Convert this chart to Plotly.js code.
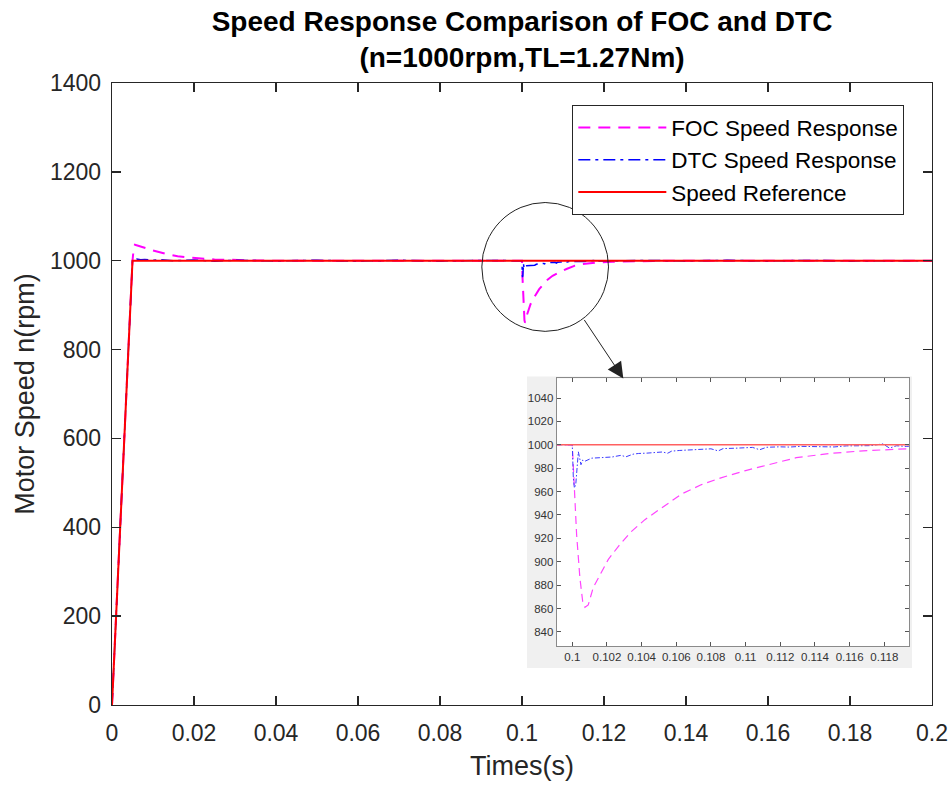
<!DOCTYPE html>
<html>
<head>
<meta charset="utf-8">
<script src="https://cdn.plot.ly/plotly-3.0.1.min.js"></script>
<style>html,body{margin:0;padding:0;background:#fff;}</style>
</head>
<body>
<div id="chart" style="width:951px;height:787px;"></div>
<script>
// ---- Data ----
const refT = [0, 0.005, 0.2];
const refN = [0, 1000, 1000];

const focT = [0, 0.001, 0.002, 0.003, 0.004, 0.005, 0.0053, 0.0056, 0.006, 0.007, 0.008, 0.009, 0.010,
  0.0115, 0.013, 0.0145, 0.016, 0.018, 0.020, 0.0225, 0.025, 0.028, 0.032, 0.036, 0.04, 0.06, 0.08,
  0.1, 0.10012, 0.10025, 0.10044, 0.1006, 0.10073, 0.10092, 0.10121, 0.1016, 0.10208, 0.10265,
  0.10342, 0.10419, 0.10515, 0.10631, 0.10746, 0.10862, 0.11, 0.111, 0.11292, 0.11485, 0.11677,
  0.11927, 0.122, 0.125, 0.128, 0.132, 0.137, 0.145, 0.16, 0.18, 0.2];
const focN = [0, 192, 396, 598, 801, 1000, 1028, 1036, 1035, 1032, 1029, 1026, 1023,
  1019, 1016, 1013, 1010, 1008, 1006, 1004.5, 1003, 1001.8, 1000.8, 1000.3, 1000, 1000, 1000,
  1000, 963, 923, 886, 866, 861, 863, 878, 889, 902, 913,
  926, 936, 946, 958, 966, 972, 978, 982, 989, 992.6, 994.9,
  996.6, 997.6, 998.4, 999, 999.5, 999.8, 1000, 1000, 1000, 1000];

const dtcT = [0, 0.001, 0.002, 0.003, 0.004, 0.005, 0.0052, 0.0056, 0.006, 0.007, 0.008, 0.01, 0.012,
  0.015, 0.02, 0.025, 0.03, 0.04, 0.05, 0.06, 0.07, 0.08, 0.09, 0.0998,
  0.1, 0.10006, 0.10012, 0.1002, 0.10027, 0.10035, 0.10042, 0.1005, 0.1006, 0.10073, 0.10112,
  0.1015, 0.10188, 0.1023, 0.1028, 0.1031, 0.1035, 0.10381, 0.1043, 0.10477, 0.1052, 0.1055,
  0.10573, 0.1062, 0.10669, 0.1071, 0.10765, 0.108, 0.10842, 0.1087, 0.10938, 0.1099, 0.1104,
  0.11081, 0.1112, 0.11196, 0.1125, 0.1132, 0.11388, 0.1145, 0.1151, 0.11581, 0.1165, 0.1172,
  0.11792, 0.1181, 0.1183, 0.1187, 0.11927, 0.1197, 0.125, 0.13, 0.14, 0.15, 0.16, 0.17, 0.18, 0.19, 0.2];
const dtcN = [0, 198, 400, 601, 802, 1001, 1004, 1003, 1004, 1002, 1003, 1001, 1002,
  1000, 1001.5, 999, 1001, 999.5, 1001, 999, 1001, 999.5, 1000.5, 1000,
  1000, 972, 963, 966, 978, 994, 989, 983, 987, 986, 988.6,
  989, 989.7, 989.6, 991, 989.8, 992, 992.6, 992.9, 993.7, 993.9, 992.8,
  994.6, 995.2, 995.7, 995.6, 996.3, 996.6, 994.8, 996.8, 997.1, 997.6, 997.8,
  995.8, 997.9, 998.3, 998.1, 998.7, 998.6, 998.9, 998.2, 999.1, 999.2, 999.3,
  1000.8, 998.8, 997.2, 999.2, 998.6, 999.3, 999.8, 1000.6, 999.6, 1000.8, 999.5, 1000.7, 999.6, 1000.5, 1000];

const xTickVals = [0, 0.02, 0.04, 0.06, 0.08, 0.1, 0.12, 0.14, 0.16, 0.18, 0.2];
const yTickVals = [0, 200, 400, 600, 800, 1000, 1200, 1400];
const insetXTicks = [0.1, 0.102, 0.104, 0.106, 0.108, 0.11, 0.112, 0.114, 0.116, 0.118];
const insetYTicks = [840, 860, 880, 900, 920, 940, 960, 980, 1000, 1020, 1040];

const seriesNames = ['FOC Speed Response', 'DTC Speed Response', 'Speed Reference'];

// ---- Chart ----
const FONT = 'Arial, "Liberation Sans", sans-serif';
const AX = '#262626';

const traces = [
  {x: focT, y: focN, type: 'scatter', mode: 'lines', name: seriesNames[0], xaxis: 'x', yaxis: 'y',
   line: {color: '#ff00ff', width: 2, dash: '12px,8px'}},
  {x: dtcT, y: dtcN, type: 'scatter', mode: 'lines', name: seriesNames[1], xaxis: 'x', yaxis: 'y',
   line: {color: '#0000ff', width: 1.5, dash: '12px,5px,3px,5px'}},
  {x: refT, y: refN, type: 'scatter', mode: 'lines', name: seriesNames[2], xaxis: 'x', yaxis: 'y',
   line: {color: '#ff0000', width: 2}},
  // inset (same data, zoomed)
  {x: focT, y: focN, type: 'scatter', mode: 'lines', showlegend: false, xaxis: 'x2', yaxis: 'y2',
   line: {color: '#ff44ff', width: 1.2, dash: '8px,5px'}},
  {x: dtcT, y: dtcN, type: 'scatter', mode: 'lines', showlegend: false, xaxis: 'x2', yaxis: 'y2',
   line: {color: '#3c3cff', width: 1, dash: '5px,2px,1.5px,2px'}},
  {x: refT, y: refN, type: 'scatter', mode: 'lines', showlegend: false, xaxis: 'x2', yaxis: 'y2',
   line: {color: '#ff6060', width: 1.5}}
];

const layout = {
  width: 951, height: 787,
  margin: {l: 112, r: 19, t: 83, b: 82, pad: 0},
  paper_bgcolor: '#ffffff', plot_bgcolor: '#ffffff',
  font: {family: FONT, color: AX},
  showlegend: true,
  hovermode: false,
  title: {
    text: '<b>Speed Response Comparison of FOC and DTC</b><br><b>(n=1000rpm,TL=1.27Nm)</b>',
    font: {family: FONT, size: 28, color: '#000000'},
    x: 0.5, xref: 'paper', xanchor: 'center',
    y: 0.961, yref: 'container', yanchor: 'top'
  },
  xaxis: {
    domain: [0, 1], anchor: 'y',
    range: [0, 0.2], tickvals: xTickVals,
    ticks: 'inside', ticklen: 9, tickwidth: 1.3, tickcolor: AX,
    showline: true, linecolor: AX, linewidth: 1.3, mirror: 'ticks',
    showgrid: false, zeroline: false, ticklabelstandoff: 7,
    tickfont: {family: FONT, size: 23, color: AX},
    title: {text: 'Times(s)', font: {family: FONT, size: 27, color: AX}, standoff: 11}
  },
  yaxis: {
    domain: [0, 1], anchor: 'x',
    range: [0, 1400], tickvals: yTickVals,
    ticks: 'inside', ticklen: 9, tickwidth: 1.3, tickcolor: AX,
    showline: true, linecolor: AX, linewidth: 1.3, mirror: 'ticks',
    showgrid: false, zeroline: false, ticklabelstandoff: 5,
    tickfont: {family: FONT, size: 23, color: AX},
    title: {text: 'Motor Speed n(rpm)', font: {family: FONT, size: 27, color: AX}, standoff: 7}
  },
  xaxis2: {
    domain: [0.5423, 0.9723], anchor: 'y2',
    range: [0.0991, 0.11944], tickvals: insetXTicks,
    ticks: 'inside', ticklen: 4, tickwidth: 1, tickcolor: '#555555',
    showline: true, linecolor: '#8a8a8a', linewidth: 1, mirror: 'ticks',
    showgrid: false, zeroline: false,
    tickfont: {family: FONT, size: 11.5, color: '#333333'}
  },
  yaxis2: {
    domain: [0.0945, 0.525], anchor: 'x2',
    range: [827.7, 1056.8], tickvals: insetYTicks,
    ticks: 'inside', ticklen: 4, tickwidth: 1, tickcolor: '#555555',
    showline: true, linecolor: '#8a8a8a', linewidth: 1, mirror: 'ticks',
    showgrid: false, zeroline: false,
    tickfont: {family: FONT, size: 11.5, color: '#333333'}
  },
  legend: {
    x: 0.561, y: 0.9646, xref: 'paper', yref: 'paper', xanchor: 'left', yanchor: 'top',
    bgcolor: '#ffffff', bordercolor: AX, borderwidth: 1.3,
    font: {family: FONT, size: 22.5, color: '#000000'},
    itemwidth: 88, tracegroupgap: 0
  },
  shapes: [
    {type: 'rect', xref: 'paper', yref: 'paper', x0: 0.5061, x1: 0.9756, y0: 0.0596, y1: 0.5282,
     fillcolor: '#f0f0f0', line: {width: 0}, layer: 'below'},
    {type: 'circle', xref: 'x', yref: 'y', x0: 0.0902, x1: 0.1211, y0: 841, y1: 1131,
     line: {color: '#222222', width: 1}, layer: 'above'}
  ],
  annotations: [
    {xref: 'x', yref: 'y', x: 0.12471, y: 735, ax: -40, ay: -60, text: '',
     showarrow: true, arrowhead: 2, arrowsize: 3.2, arrowwidth: 1, arrowcolor: '#222222'}
  ]
};

Plotly.newPlot('chart', traces, layout, {staticPlot: true, displayModeBar: false});
</script>
</body>
</html>
